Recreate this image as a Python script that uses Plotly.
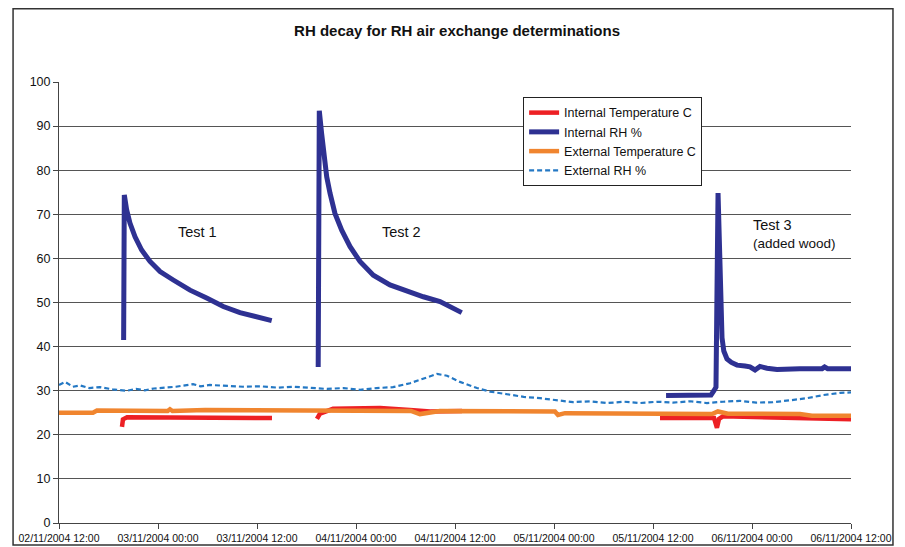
import plotly.graph_objects as go

# ---------------- data ----------------
int_rh_time = [
    "2004-11-02 19:50", "2004-11-02 19:55", "2004-11-02 20:12", "2004-11-02 20:36", "2004-11-02 21:13",
    "2004-11-02 22:01", "2004-11-02 23:02", "2004-11-03 00:15", "2004-11-03 01:51", "2004-11-03 03:53",
    "2004-11-03 05:54", "2004-11-03 07:55", "2004-11-03 09:56", "2004-11-03 11:58", "2004-11-03 13:47",
    None,
    "2004-11-03 19:25", "2004-11-03 19:33", "2004-11-03 19:50", "2004-11-03 20:07", "2004-11-03 20:27",
    "2004-11-03 20:51", "2004-11-03 21:27", "2004-11-03 22:16", "2004-11-03 23:16", "2004-11-04 00:29",
    "2004-11-04 02:06", "2004-11-04 04:07", "2004-11-04 06:09", "2004-11-04 08:10", "2004-11-04 10:11",
    "2004-11-04 12:49",
    None,
    "2004-11-05 13:35", "2004-11-05 19:02", "2004-11-05 19:23", "2004-11-05 19:38", "2004-11-05 19:53",
    "2004-11-05 20:07", "2004-11-05 20:22", "2004-11-05 20:35", "2004-11-05 20:58", "2004-11-05 21:30",
    "2004-11-05 22:11", "2004-11-05 23:09", "2004-11-05 23:45", "2004-11-06 00:22", "2004-11-06 00:58",
    "2004-11-06 01:49", "2004-11-06 03:02", "2004-11-06 05:48", "2004-11-06 08:30", "2004-11-06 08:48",
    "2004-11-06 09:10", "2004-11-06 12:00",
]
int_rh = [
    41.5, 74.4, 71.0, 68.0, 64.9,
    61.9, 59.3, 57.0, 55.1, 52.8,
    51.0, 49.1, 47.7, 46.7, 45.9,
    None,
    35.4, 93.5, 88.3, 83.1, 78.5,
    74.8, 70.2, 66.4, 62.7, 59.3,
    56.2, 54.0, 52.5, 51.3, 50.2,
    47.7,
    None,
    28.9, 29.0, 30.0, 30.8, 74.8,
    55.0, 42.0, 39.0, 37.2, 36.4,
    35.8, 35.6, 35.4, 34.7, 35.5,
    35.1, 34.8, 35.0, 35.0, 35.4,
    35.0, 35.0,
]

int_t_time = [
    "2004-11-02 19:38", "2004-11-02 19:45", "2004-11-02 20:15", "2004-11-03 05:05", "2004-11-03 13:49",
    None,
    "2004-11-03 19:16", "2004-11-03 19:38", "2004-11-03 21:13", "2004-11-04 02:55", "2004-11-04 06:32",
    "2004-11-04 09:00", "2004-11-04 12:51",
    None,
    "2004-11-05 12:51", "2004-11-05 19:24", "2004-11-05 19:45", "2004-11-05 20:00", "2004-11-05 20:29",
    "2004-11-06 03:24", "2004-11-06 12:00",
]
int_t = [
    21.8, 23.5, 24.0, 23.8, 23.8,
    None,
    23.6, 24.8, 25.9, 26.1, 25.6,
    25.3, 25.4,
    None,
    23.8, 23.8, 21.6, 23.6, 24.2,
    23.9, 23.5,
]

ext_t_time = [
    "2004-11-02 12:00", "2004-11-02 16:07", "2004-11-02 16:36", "2004-11-03 01:10", "2004-11-03 01:27",
    "2004-11-03 01:45", "2004-11-03 05:42", "2004-11-03 11:45", "2004-11-03 19:38", "2004-11-04 06:40",
    "2004-11-04 07:45", "2004-11-04 10:10", "2004-11-05 00:07", "2004-11-05 00:29", "2004-11-05 01:20",
    "2004-11-05 12:51", "2004-11-05 19:09", "2004-11-05 19:52", "2004-11-05 21:05", "2004-11-06 05:49",
    "2004-11-06 07:16", "2004-11-06 12:00",
]
ext_t = [
    25.0, 25.0, 25.5, 25.4, 25.8,
    25.4, 25.6, 25.5, 25.6, 25.4,
    24.7, 25.4, 25.3, 24.5, 24.9,
    24.7, 24.7, 25.3, 24.8, 24.7,
    24.3, 24.3,
]

ext_rh_time = [
    "2004-11-02 12:00", "2004-11-02 12:44", "2004-11-02 13:40", "2004-11-02 14:33", "2004-11-02 15:40",
    "2004-11-02 16:58", "2004-11-02 18:30", "2004-11-02 20:14", "2004-11-02 21:20", "2004-11-02 22:25",
    "2004-11-02 23:30", "2004-11-03 00:15", "2004-11-03 02:10", "2004-11-03 04:15", "2004-11-03 05:10",
    "2004-11-03 06:18", "2004-11-03 08:22", "2004-11-03 10:20", "2004-11-03 12:22", "2004-11-03 14:30",
    "2004-11-03 16:22", "2004-11-03 18:30", "2004-11-03 20:29", "2004-11-03 22:30", "2004-11-04 00:29",
    "2004-11-04 02:30", "2004-11-04 04:29", "2004-11-04 06:33", "2004-11-04 08:36", "2004-11-04 09:49",
    "2004-11-04 11:02", "2004-11-04 12:36", "2004-11-04 14:40", "2004-11-04 16:14", "2004-11-04 18:18",
    "2004-11-04 20:20", "2004-11-04 22:18", "2004-11-05 00:20", "2004-11-05 02:18", "2004-11-05 04:20",
    "2004-11-05 06:25", "2004-11-05 08:30", "2004-11-05 10:25", "2004-11-05 12:30", "2004-11-05 14:25",
    "2004-11-05 16:30", "2004-11-05 18:32", "2004-11-05 20:30", "2004-11-05 22:32", "2004-11-06 00:30",
    "2004-11-06 02:32", "2004-11-06 04:30", "2004-11-06 06:40", "2004-11-06 08:36", "2004-11-06 10:40",
    "2004-11-06 12:00",
]
ext_rh = [
    31.3, 32.0, 30.9, 31.2, 30.6,
    30.8, 30.3, 30.0, 30.4, 30.1,
    30.5, 30.6, 30.9, 31.5, 31.0,
    31.3, 31.1, 30.9, 31.0, 30.7,
    30.9, 30.6, 30.4, 30.6, 30.2,
    30.6, 30.8, 31.7, 33.1, 33.8,
    33.4, 32.0, 30.6, 29.8, 29.2,
    28.6, 28.3, 27.9, 27.4, 27.6,
    27.2, 27.5, 27.2, 27.5, 27.3,
    27.6, 27.2, 27.5, 27.7, 27.3,
    27.4, 27.8, 28.3, 29.0, 29.5,
    29.6,
]

x_range = ["2004-11-02 12:00", "2004-11-06 12:00"]
y_ticks = list(range(0, 101, 10))

FONT = "Arial, Liberation Sans, Helvetica, sans-serif"

fig = go.Figure()
fig.add_trace(go.Scatter(x=int_t_time, y=int_t, mode="lines", name="Internal Temperature C",
                         line=dict(color="#ED2024", width=4.5), connectgaps=False))
fig.add_trace(go.Scatter(x=int_rh_time, y=int_rh, mode="lines", name="Internal RH %",
                         line=dict(color="#2E3192", width=5), connectgaps=False))
fig.add_trace(go.Scatter(x=ext_t_time, y=ext_t, mode="lines", name="External Temperature C",
                         line=dict(color="#F0852F", width=4.5)))
fig.add_trace(go.Scatter(x=ext_rh_time, y=ext_rh, mode="lines", name="External RH %",
                         line=dict(color="#2478C4", width=2.2, dash="5px,3px")))

annos = [
    dict(x="2004-11-03 04:44", y=66.0, text="Test 1", xanchor="center", size=14.5),
    dict(x="2004-11-04 05:34", y=66.0, text="Test 2", xanchor="center", size=14.5),
    dict(x="2004-11-05 23:55", y=67.6, text="Test 3", xanchor="left", size=14.5),
    dict(x="2004-11-05 23:55", y=63.4, text="(added wood)", xanchor="left", size=13.5),
]
for a in annos:
    fig.add_annotation(x=a["x"], y=a["y"], text=a["text"], xanchor=a["xanchor"], yanchor="middle",
                       showarrow=False, font=dict(family=FONT, size=a["size"], color="#111"))

# outer chart border
fig.add_shape(type="rect", xref="paper", yref="paper", x0=-0.058, x1=1.053, y0=-0.05, y1=1.166,
              line=dict(color="#333", width=1.5), fillcolor="rgba(0,0,0,0)", layer="below")

fig.update_layout(
    width=905, height=547,
    margin=dict(l=59, r=54, t=82, b=24, autoexpand=False),
    paper_bgcolor="white", plot_bgcolor="white",
    font=dict(family=FONT, color="#111"),
    title=dict(text="<b>RH decay for RH air exchange determinations</b>", x=0.505, xref="container",
               y=1 - 31 / 547, yref="container", yanchor="middle", xanchor="center",
               font=dict(family=FONT, size=15, color="#111")),
    showlegend=True,
    legend=dict(x=0.586, y=0.966, xanchor="left", yanchor="top", bordercolor="#222", borderwidth=1,
                bgcolor="white", font=dict(family=FONT, size=12.5, color="#111"),
                tracegroupgap=0, itemwidth=30),
    hovermode=False,
)
fig.update_xaxes(type="date", range=x_range, tick0="2004-11-02 12:00", dtick=43200000,
                 tickformat="%d/%m/%Y %H:%M", ticks="outside", ticklen=5, tickcolor="#444",
                 showline=True, linecolor="#444", linewidth=1, showgrid=False, zeroline=False,
                 tickfont=dict(family=FONT, size=10.5, color="#111"), tickangle=0, automargin=False)
fig.update_yaxes(range=[0, 100], tickvals=y_ticks, ticks="outside", ticklen=5, tickcolor="#444",
                 showline=True, linecolor="#444", linewidth=1, showgrid=True, gridcolor="#555",
                 gridwidth=1, zeroline=False, tickfont=dict(family=FONT, size=12.5, color="#111"),
                 automargin=False)

fig.write_html("out.html")
